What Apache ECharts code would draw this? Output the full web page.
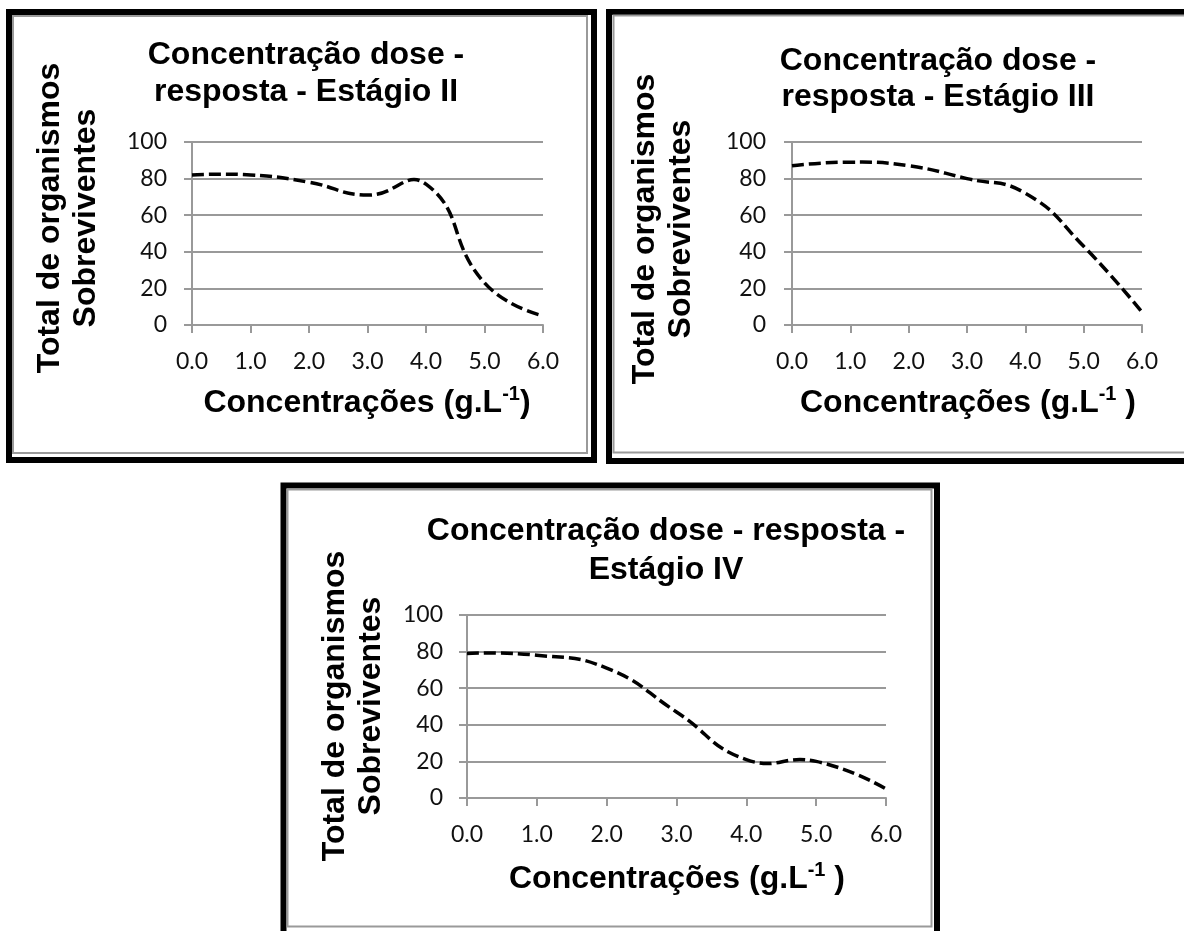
<!DOCTYPE html>
<html>
<head>
<meta charset="utf-8">
<title>Concentração dose - resposta</title>
<script src="https://cdn.jsdelivr.net/npm/echarts@6/dist/echarts.min.js"></script>
<style>
  html, body { margin: 0; padding: 0; background: #fff; }
  #chart { width: 1184px; height: 931px; }
</style>
</head>
<body>
<div id="chart"></div>
<script>
  // concentrações (g.L-1) e sobreviventes por estágio
  const concentracoes = [0, 1, 2, 3, 4, 5, 6]
  const estagioII = [82, 82, 78, 71, 77, 23, 5]
  const estagioIII = [87, 89, 87, 80, 72, 43, 7]
  const estagioIV = [79, 78, 71, 47, 21, 20, 5]
  const yTicks = [0, 20, 40, 60, 80, 100]

  const titulos = [
    "Concentração dose -\nresposta - Estágio II",
    "Concentração dose -\nresposta - Estágio III",
    "Concentração dose - resposta -\nEstágio IV",
  ]
  const tituloY = "Total de organismos\nSobreviventes"
  const tituloX = [
    "Concentrações (g.L{sup|-1})",
    "Concentrações (g.L{sup|-1} )",
    "Concentrações (g.L{sup|-1} )",
  ]

  const series = [estagioII, estagioIII, estagioIV]

  const FONT_BOLD = '"Liberation Sans", Arial, sans-serif'
  const FONT_TICK = 'Lato, "Open Sans", sans-serif'
  const GRAY = "#999999"

  // layout of each painel
  const paineis = [
    {
      grid: { left: 192, top: 142, width: 351, height: 183 },
      frame: { x: 9, y: 12, w: 585, h: 448 },
      inner: { x: 13, y: 16, w: 574, h: 437 },
      title: [306, 73.5, 37],
      yTitle: [68, 218],
      xTitle: [367, 403],
      yMargin: 25,
    },
    {
      grid: { left: 792, top: 142, width: 350, height: 183 },
      frame: { x: 609, y: 12, w: 620, h: 449 },
      inner: { x: 613.5, y: 15.5, w: 620, h: 437 },
      title: [938, 79.5, 36],
      yTitle: [663, 229],
      xTitle: [968, 403],
      yMargin: 26,
    },
    {
      grid: { left: 467, top: 615, width: 419, height: 183 },
      frame: { x: 283.5, y: 485.5, w: 653.5, h: 470 },
      inner: { x: 287.5, y: 489.5, w: 644, h: 437 },
      title: [666, 550.5, 39],
      yTitle: [353.5, 706],
      xTitle: [677, 879],
      yMargin: 24,
    },
  ]

  // smoothed line like the spreadsheet one (bezier through every point, no clamping)
  const SMOOTH = 0.5
  function curva(vals) {
    return function (params, api) {
      if (params.dataIndex !== 0) return null
      const pts = concentracoes.map((c, j) => api.coord([c, vals[j]]))
      const n = pts.length
      const cpIn = []
      const cpOut = []
      for (let k = 0; k < n; k++) {
        const p = pts[k]
        if (k === 0 || k === n - 1) {
          cpIn[k] = p
          cpOut[k] = p
          continue
        }
        const a = pts[k - 1]
        const b = pts[k + 1]
        const vx = b[0] - a[0]
        const vy = b[1] - a[1]
        const l0 = Math.hypot(p[0] - a[0], p[1] - a[1])
        const l1 = Math.hypot(b[0] - p[0], b[1] - p[1])
        const r = l1 / (l0 + l1)
        cpOut[k] = [p[0] + vx * SMOOTH * r, p[1] + vy * SMOOTH * r]
        cpIn[k] = [p[0] - vx * SMOOTH * (1 - r), p[1] - vy * SMOOTH * (1 - r)]
      }
      let d = "M" + pts[0][0] + " " + pts[0][1]
      for (let k = 1; k < n; k++) {
        d += " C" + cpOut[k - 1].join(" ") + " " + cpIn[k].join(" ") + " " + pts[k].join(" ")
      }
      return {
        type: "path",
        shape: { pathData: d },
        style: {
          fill: null,
          stroke: "#000",
          lineWidth: 3.5,
          lineDash: [12, 5],
        },
      }
    }
  }

  const graphic = []
  paineis.forEach((p, i) => {
    graphic.push({
      type: "rect",
      shape: { x: p.frame.x, y: p.frame.y, width: p.frame.w, height: p.frame.h },
      style: { fill: "none", stroke: "#000", lineWidth: 6 },
      z: 1,
    })
    graphic.push({
      type: "rect",
      shape: { x: p.inner.x, y: p.inner.y, width: p.inner.w, height: p.inner.h },
      style: { fill: "none", stroke: "#9a9a9a", lineWidth: 2 },
      z: 1,
    })
    graphic.push({
      type: "text",
      x: p.title[0],
      y: p.title[1],
      style: {
        text: titulos[i],
        fontFamily: FONT_BOLD,
        fontWeight: "bold",
        fontSize: 32,
        lineHeight: p.title[2],
        fill: "#000",
        align: "center",
        verticalAlign: "middle",
        textAlign: "center",
        textVerticalAlign: "middle",
      },
    })
    graphic.push({
      type: "text",
      x: p.yTitle[0],
      y: p.yTitle[1],
      rotation: Math.PI / 2,
      style: {
        text: tituloY,
        fontFamily: FONT_BOLD,
        fontWeight: "bold",
        fontSize: 32,
        lineHeight: 36,
        fill: "#000",
        align: "center",
        verticalAlign: "middle",
        textAlign: "center",
        textVerticalAlign: "middle",
      },
    })
    graphic.push({
      type: "text",
      x: p.xTitle[0],
      y: p.xTitle[1],
      style: {
        text: tituloX[i],
        fontFamily: FONT_BOLD,
        fontWeight: "bold",
        fontSize: 32,
        lineHeight: 38,
        fill: "#000",
        align: "center",
        verticalAlign: "middle",
        textAlign: "center",
        textVerticalAlign: "middle",
        rich: {
          sup: {
            fontFamily: FONT_BOLD,
            fontWeight: "bold",
            fontSize: 20,
            lineHeight: 20,
            verticalAlign: "top",
            fill: "#000",
          },
        },
      },
    })
  })

  const option = {
    animation: false,
    backgroundColor: "#fff",
    grid: paineis.map((p) => p.grid),
    xAxis: paineis.map((p, i) => ({
      type: "value",
      gridIndex: i,
      min: concentracoes[0],
      max: concentracoes[concentracoes.length - 1],
      interval: 1,
      axisLine: { show: true, lineStyle: { color: GRAY, width: 2 } },
      axisTick: { show: true, length: 8, lineStyle: { color: GRAY, width: 2 } },
      splitLine: { show: false },
      axisLabel: {
        margin: 25,
        color: "#111",
        fontFamily: FONT_TICK,
        fontSize: 23,
        formatter: (v) => v.toFixed(1),
      },
    })),
    yAxis: paineis.map((p, i) => ({
      type: "value",
      gridIndex: i,
      min: yTicks[0],
      max: yTicks[yTicks.length - 1],
      interval: yTicks[1] - yTicks[0],
      axisLine: { show: true, lineStyle: { color: GRAY, width: 2 } },
      axisTick: { show: true, length: 8, lineStyle: { color: GRAY, width: 2 } },
      splitLine: { show: true, lineStyle: { color: GRAY, width: 2 } },
      axisLabel: {
        margin: p.yMargin,
        color: "#111",
        fontFamily: FONT_TICK,
        fontSize: 23,
      },
    })),
    series: series.map((vals, i) => ({
      type: "custom",
      coordinateSystem: "cartesian2d",
      xAxisIndex: i,
      yAxisIndex: i,
      data: concentracoes.map((c, j) => [c, vals[j]]),
      encode: { x: 0, y: 1 },
      renderItem: curva(vals),
      clip: false,
      z: 5,
    })),
    graphic: graphic,
  }

  const myChart = echarts.init(document.getElementById("chart"))
  myChart.setOption(option)
</script>
</body>
</html>
